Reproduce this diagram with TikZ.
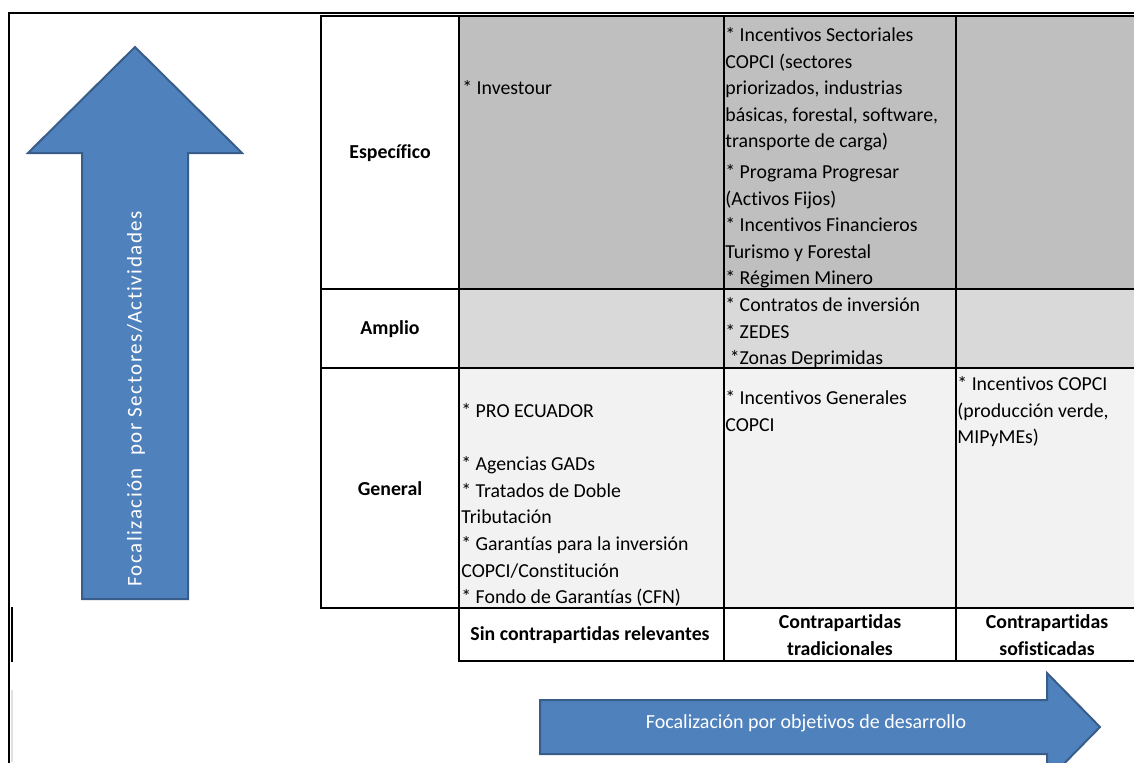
\documentclass[tikz,border=0pt]{standalone}
\usepackage{fontspec}
\setmainfont{Carlito}[Ligatures=NoCommon]
\newfontfamily\spacedfont{Carlito}[Ligatures=NoCommon, LetterSpace=7]
\usetikzlibrary{calc}
\definecolor{arrowblue}{HTML}{4F81BD}
\definecolor{arrowedge}{HTML}{385D8A}
\definecolor{darkcell}{HTML}{BFBFBF}
\definecolor{midcell}{HTML}{D9D9D9}
\definecolor{lightcell}{HTML}{F2F2F2}
\tikzset{
	rule/.style={line width=1pt},
	frame/.style={line width=0.8pt},
	cell/.style={anchor=north west, align=left, inner sep=0pt, font=\fontsize{9.9}{13.3}\selectfont},
	head/.style={align=center, inner sep=0pt, font=\bfseries\fontsize{9.9}{13.3}\selectfont},
	bigarrow/.style={fill=arrowblue, draw=arrowedge, line width=1pt, line join=miter},
}

\begin{document}
\begin{tikzpicture}[x=0.5pt,y=-0.5pt]
			\useasboundingbox (0,0) rectangle (1134,762);
			\clip (0,0) rectangle (1134,762);
			% shaded rows
			\fill[darkcell] (459,16) rectangle (1140,289);
			\fill[midcell] (459,289) rectangle (1140,368);
			\fill[lightcell] (459,368) rectangle (1140,608);
			% outer frame
			\draw[frame] (1140,13)--(9,13)--(9,770);
			\draw[line width=1pt] (12,607)--(12,662);
			\draw[line width=1pt, black!12] (12,690)--(12,762);
			% table
			\draw[rule] (1140,16)--(321,16)--(321,608)--(1140,608);
			\draw[rule] (321,289)--(1140,289);
			\draw[rule] (321,368)--(1140,368);
			\draw[rule] (459,16)--(459,661)--(1140,661);
			\draw[rule] (724,16)--(724,661);
			\draw[rule] (956,16)--(956,661);
			\node[head] (especifico) at (390,153) {Específico};
			\node[head] (amplio) at (390,329) {Amplio};
			\node[head] (general) at (390,489) {General};
			\node[cell] (investour) at (462,80) {* Investour};
			\node[cell] (sectoriales) at (725,27) {* Incentivos Sectoriales\\COPCI (sectores\\priorizados, industrias\\básicas, forestal, software,\\transporte de carga)\\[2pt]* Programa Progresar\\(Activos Fijos)\\* Incentivos Financieros\\Turismo y Forestal\\* Régimen Minero};
			\node[cell] (contratos) at (725,297) {* Contratos de inversión\\* ZEDES\\\ *Zonas Deprimidas};
			\node[cell] (proecuador) at (461,403) {* PRO ECUADOR\\[13.3pt]* Agencias GADs\\* Tratados de Doble\\Tributación\\* Garantías para la inversión\\COPCI/Constitución\\* Fondo de Garantías (CFN)};
			\node[cell] (generales) at (725,390) {* Incentivos Generales\\COPCI};
			\node[cell] (copci) at (957,376) {* Incentivos COPCI\\(producción verde,\\MIPyMEs)};
			\node[head] (sinctp) at (590,635) {Sin contrapartidas relevantes};
			\node[head] (tradicionales) at (840,635) {Contrapartidas\\tradicionales};
			\node[head] (sofisticadas) at (1047,635) {Contrapartidas\\sofisticadas};
			% arrows
			\draw[bigarrow] (82,599)--(82,153)--(28,153)--(135,47)--(242,153)--(188,153)--(188,599)--cycle;
			\node[rotate=90, text=white, font=\spacedfont\fontsize{10.5}{13}\selectfont] (sectores) at (136,399) {Focalización\ \ por Sectores/Actividades};
			\draw[bigarrow] (540,700)--(1047,700)--(1047,673)--(1100,727)--(1047,781)--(1047,754)--(540,754)--cycle;
			\node[text=white, font=\fontsize{10}{12}\selectfont] (objetivos) at (806,723) {Focalización por objetivos de desarrollo};
		\end{tikzpicture}
\end{document}
